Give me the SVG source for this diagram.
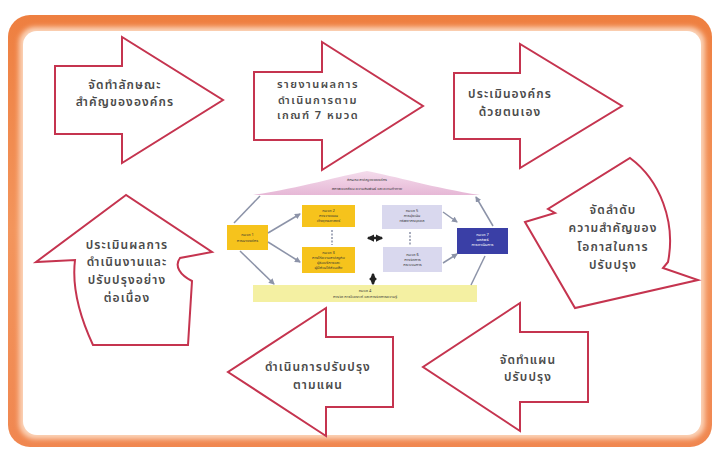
<svg xmlns="http://www.w3.org/2000/svg" width="716" height="450" viewBox="0 0 716 450">
  <defs>
    <linearGradient id="frameGrad" x1="0" y1="0" x2="0" y2="1">
      <stop offset="0" stop-color="#ee7f40"/>
      <stop offset="0.5" stop-color="#f3955c"/>
      <stop offset="1" stop-color="#f08750"/>
    </linearGradient>
    <linearGradient id="pinkGrad" x1="0" y1="0" x2="0" y2="1">
      <stop offset="0" stop-color="#f4dcec"/>
      <stop offset="1" stop-color="#e6b8d6"/>
    </linearGradient>
    <filter id="soft" x="-5%" y="-5%" width="110%" height="110%">
      <feGaussianBlur stdDeviation="2.5"/>
    </filter>
    <marker id="tip" viewBox="0 0 6 6" refX="5" refY="3" markerWidth="4" markerHeight="4" orient="auto">
      <path d="M0,0 L6,3 L0,6 Z" fill="#8c93a8"/>
    </marker>
    <marker id="tipDark" viewBox="0 0 6 6" refX="5" refY="3" markerWidth="3" markerHeight="3" orient="auto-start-reverse">
      <path d="M0,0 L6,3 L0,6 Z" fill="#222"/>
    </marker>
  </defs>
  <style>
    .step { fill: #ffffff; stroke: #c5344f; stroke-width: 2; stroke-linejoin: miter; }
    .label { font-family: "Noto Sans Thai", "Noto Sans", "DejaVu Sans", sans-serif; font-size: 12px; font-weight: 600; letter-spacing: 1.1px; fill: #4a4a4a; text-anchor: middle; }
    .tight { font-size: 11px; letter-spacing: 1.5px; }
    .mini { font-family: "Noto Sans Thai", "Noto Sans", "DejaVu Sans", sans-serif; font-size: 4px; fill: #333; text-anchor: middle; }
    .miniW { font-family: "Noto Sans Thai", "Noto Sans", "DejaVu Sans", sans-serif; font-size: 4px; fill: #ffffff; text-anchor: middle; }
    .link { fill: none; stroke: #8c93a8; stroke-width: 1.5; }
    .dash { fill: none; stroke: #8c93a8; stroke-width: 1.5; stroke-dasharray: 2 1.5; }
    .bold { fill: none; stroke: #222; stroke-width: 2.5; }
  </style>

  <!-- page background and orange frame -->
  <rect x="0" y="0" width="716" height="450" fill="#ffffff"/>
  <rect x="8" y="15" width="704" height="432" rx="22" fill="url(#frameGrad)"/>
  <rect x="19" y="27" width="686" height="412" rx="16" fill="#fbd3b8" filter="url(#soft)"/>
  <rect x="23" y="31" width="678" height="404" rx="14" fill="#ffffff"/>

  <!-- process steps -->
  <g id="step-profile">
    <polygon class="step" points="55,66 122,66 122,37 223,100 122,163 122,134 55,134"/>
    <text class="label" x="125" y="89">จัดทำลักษณะ<tspan x="125" dy="17">สำคัญขององค์กร</tspan></text>
  </g>

  <g id="step-report">
    <polygon class="step" points="254,72 322,72 322,42 423,106 322,170 322,140 254,140"/>
    <text class="label tight" x="318" y="88">รายงานผลการ<tspan x="318" dy="15.5">ดำเนินการตาม</tspan><tspan x="318" dy="15.5">เกณฑ์ 7 หมวด</tspan></text>
  </g>

  <g id="step-assess">
    <polygon class="step" points="454,73 520,73 520,44 622,106 520,168 520,139 454,139"/>
    <text class="label" x="510" y="98">ประเมินองค์กร<tspan x="510" dy="18">ด้วยตนเอง</tspan></text>
  </g>

  <g id="step-prioritize">
    <path class="step" d="M525,222 L555,213 L548,209 L630,158 C660,180 676,222 668,262 L663,268 L698,280 L575,308 Z"/>
    <text class="label" x="613" y="214">จัดลำดับ<tspan x="613" dy="18">ความสำคัญของ</tspan><tspan x="613" dy="19">โอกาสในการ</tspan><tspan x="613" dy="18">ปรับปรุง</tspan></text>
  </g>

  <g id="step-plan">
    <polygon class="step" points="588,332 520,332 520,303 423,367 520,431 520,402 588,402"/>
    <text class="label" x="528" y="364">จัดทำแผน<tspan x="528" dy="17">ปรับปรุง</tspan></text>
  </g>

  <g id="step-implement">
    <polygon class="step" points="393,337 326,337 326,308 228,372 326,436 326,407 393,407"/>
    <text class="label" x="318" y="371">ดำเนินการปรับปรุง<tspan x="318" dy="18">ตามแผน</tspan></text>
  </g>

  <g id="step-review">
    <path class="step" d="M126,195 L36,262 L75,260 C72,285 79,315 93,345 L188,345 L192,281 C180,275 174,266 180,258 L212,252 Z"/>
    <text class="label" x="127" y="249">ประเมินผลการ<tspan x="127" dy="17">ดำเนินงานและ</tspan><tspan x="127" dy="18">ปรับปรุงอย่าง</tspan><tspan x="127" dy="18">ต่อเนื่อง</tspan></text>
  </g>

  <!-- framework chart in the centre -->
  <g id="fw-profile">
    <path d="M253,195 C300,188 340,176 367,171 C394,176 434,188 480,195 Z" fill="url(#pinkGrad)"/>
    <text class="mini" x="367" y="181">ลักษณะสำคัญขององค์กร<tspan x="367" dy="9">สภาพแวดล้อม ความสัมพันธ์ และความท้าทาย</tspan></text>
  </g>
  <g id="fw-cat1">
    <rect x="227" y="225" width="41" height="25" fill="#f6c31c"/>
    <text class="mini" x="247.5" y="236">หมวด 1<tspan x="247.5" dy="6">การนำองค์กร</tspan></text>
  </g>
  <g id="fw-cat2">
    <rect x="302" y="205" width="53" height="22" fill="#f6c31c"/>
    <text class="mini" x="328.5" y="212">หมวด 2<tspan x="328.5" dy="5">การวางแผน</tspan><tspan x="328.5" dy="5">เชิงยุทธศาสตร์</tspan></text>
  </g>
  <g id="fw-cat3">
    <rect x="302" y="247" width="53" height="26" fill="#f6c31c"/>
    <text class="mini" x="328.5" y="254">หมวด 3<tspan x="328.5" dy="5">การให้ความสำคัญกับ</tspan><tspan x="328.5" dy="5">ผู้รับบริการและ</tspan><tspan x="328.5" dy="5">ผู้มีส่วนได้ส่วนเสีย</tspan></text>
  </g>
  <g id="fw-cat5">
    <rect x="382" y="205" width="60" height="24" fill="#d9d8ee"/>
    <text class="mini" x="412" y="212">หมวด 5<tspan x="412" dy="5">การมุ่งเน้น</tspan><tspan x="412" dy="5">ทรัพยากรบุคคล</tspan></text>
  </g>
  <g id="fw-cat6">
    <rect x="383" y="247" width="59" height="25" fill="#d9d8ee"/>
    <text class="mini" x="412.5" y="256">หมวด 6<tspan x="412.5" dy="5">การจัดการ</tspan><tspan x="412.5" dy="5">กระบวนการ</tspan></text>
  </g>
  <g id="fw-cat7">
    <rect x="457" y="228" width="51" height="26" fill="#3a3fa6"/>
    <text class="miniW" x="482.5" y="236">หมวด 7<tspan x="482.5" dy="5">ผลลัพธ์</tspan><tspan x="482.5" dy="5">การดำเนินการ</tspan></text>
  </g>
  <g id="fw-cat4">
    <rect x="253" y="285" width="224" height="17" fill="#f4f0a2"/>
    <text class="mini" x="365" y="292">หมวด 4<tspan x="365" dy="6">การวัด การวิเคราะห์ และการจัดการความรู้</tspan></text>
  </g>

  <g id="fw-links">
    <line class="link" x1="260" y1="196" x2="234" y2="223"/>
    <line class="link" x1="268" y1="233" x2="300" y2="214" marker-end="url(#tip)"/>
    <line class="link" x1="268" y1="242" x2="300" y2="262" marker-end="url(#tip)"/>
    <line class="link" x1="240" y1="251" x2="274" y2="284" marker-end="url(#tip)"/>
    <line class="dash" x1="332" y1="230" x2="332" y2="245"/>
    <line class="dash" x1="410" y1="232" x2="410" y2="245"/>
    <line class="bold" x1="368" y1="238" x2="382" y2="238" marker-start="url(#tipDark)" marker-end="url(#tipDark)"/>
    <line class="bold" x1="373" y1="274" x2="373" y2="284" marker-start="url(#tipDark)" marker-end="url(#tipDark)"/>
    <line class="link" x1="443" y1="212" x2="457" y2="222" marker-end="url(#tip)"/>
    <line class="link" x1="443" y1="263" x2="457" y2="254" marker-end="url(#tip)"/>
    <line class="link" x1="493" y1="226" x2="476" y2="197" marker-end="url(#tip)"/>
    <line class="link" x1="471" y1="285" x2="485" y2="256"/>
  </g>
</svg>
